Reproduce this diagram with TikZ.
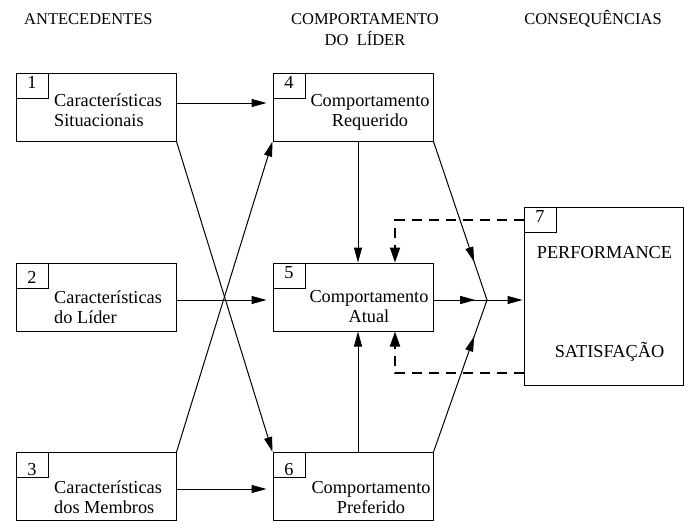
\documentclass[tikz,border=0pt]{standalone}
\usepackage{fontspec}
\setmainfont{Liberation Serif}
\usetikzlibrary{arrows.meta,decorations.markings}

\begin{document}
\begin{tikzpicture}[x=1pt,y=-1pt,
  font=\fontsize{18.3}{20}\selectfont,>={Triangle[length=15pt,width=8pt]},
  block/.style={rectangle,draw,line width=1pt,minimum width=160pt,minimum height=68pt,inner sep=0pt},
  numbox/.style={rectangle,draw,line width=1pt,minimum width=32pt,minimum height=25pt,inner sep=0pt,anchor=north west,text height=12.5pt,text depth=6.6pt},
  caption/.style={inner sep=0pt,align=#1},
  header/.style={inner sep=0pt,font=\fontsize{16.5}{19}\selectfont},
  edge/.style={->,line width=1pt},
  midedge/.style={line width=1pt,postaction={decorate},decoration={markings,mark=at position #1 with {\arrow{>}}}},
  feedback/.style={-{Triangle[length=15pt,width=10pt]},line width=2pt,dash pattern=on 10pt off 7pt}
]
\useasboundingbox (0,0) rectangle (688,520);
% column headings
\node[header,anchor=base west] (hant) at (24,24) {ANTECEDENTES};
\node[header,align=center,anchor=north] (hcomp) at (365,10.7) {\strut COMPORTAMENTO\\\strut DO~~LÍDER};
\node[header,anchor=base] (hcons) at (593,24) {CONSEQUÊNCIAS};
% antecedents
\node[block] (b1) at (96,107) {};
\node[block] (b2) at (96,297) {};
\node[block] (b3) at (96,486.5) {};
\node[numbox] (n1) at (b1.north west) {1};
\node[numbox] (n2) at (b2.north west) {\raisebox{-5pt}{2}};
\node[numbox] (n3) at (b3.north west) {\raisebox{-8pt}{3}};
\node[caption=left,anchor=west] (t1) at (54,112) {\strut Características\\\strut Situacionais};
\node[caption=left,anchor=west] (t2) at (54,309) {\strut Características\\\strut do Líder};
\node[caption=left,anchor=west] (t3) at (54,499) {\strut Características\\\strut dos Membros};
% leader behaviour
\node[block] (b4) at (353,107) {};
\node[block] (b5) at (353,297) {};
\node[block] (b6) at (353,486.5) {};
\node[numbox] (n4) at (b4.north west) {4};
\node[numbox] (n5) at (b5.north west) {5};
\node[numbox] (n6) at (b6.north west) {\raisebox{-8pt}{6}};
\node[caption=center] (t4) at (370,112) {\strut Comportamento\\\strut Requerido};
\node[caption=center] (t5) at (369,308) {\strut Comportamento\\\strut Atual};
\node[caption=center] (t6) at (371,499) {\strut Comportamento\\\strut Preferido};
% consequences
\node[block,minimum width=159pt,minimum height=178pt] (b7) at (603.5,296) {};
\node[numbox] (n7) at (b7.north west) {7};
\node[inner sep=0pt,anchor=base] (perf) at (604.5,258) {PERFORMANCE};
\node[inner sep=0pt,anchor=base] (sat) at (609.5,357) {SATISFAÇÃO};
% connectors
\draw[edge,shorten >=6pt] ([yshift=4pt]b1.east) -- ([yshift=4pt]b4.west);
\draw[edge,shorten >=6pt] ([yshift=-3pt]b2.east) -- ([yshift=-3pt]b5.west);
\draw[edge,shorten >=6pt] ([yshift=-2.5pt]b3.east) -- ([yshift=-2.5pt]b6.west);
\draw[edge] (b1.south east) -- (b6.north west);
\draw[edge] (b3.north east) -- (b4.south west);
\draw[edge] ([xshift=5pt]b4.south) -- ([xshift=5pt]b5.north);
\draw[edge] ([xshift=5pt]b6.north) -- ([xshift=5pt]b5.south);
\coordinate (j) at (487,300);
\draw[midedge=0.76] (b4.south east) -- (j);
\draw[midedge=0.76] (b6.north east) -- (j);
\draw[midedge=0.78] (b5.east |- j) -- (j);
\draw[edge,shorten >=1pt] (j) -- (b7.west |- j);
\draw[feedback] ([yshift=76pt]b7.west) -| ([xshift=42pt]b5.north);
\draw[feedback] ([yshift=-77pt]b7.west) -| ([xshift=42pt]b5.south);
\end{tikzpicture}
\end{document}
